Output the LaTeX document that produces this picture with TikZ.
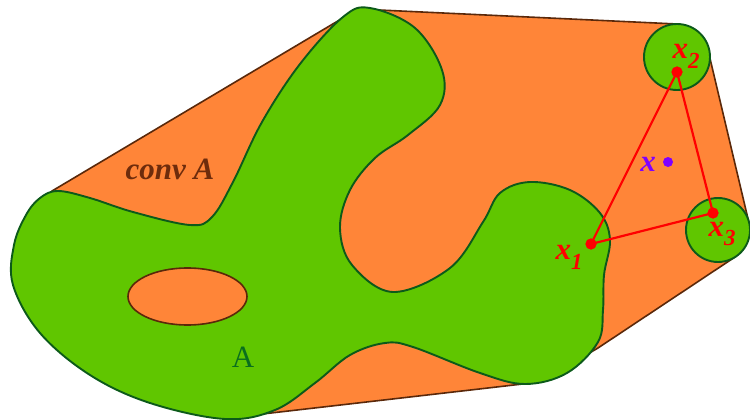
\documentclass[tikz,border=0pt]{standalone}
\usepackage{fontspec}
\setmainfont{Liberation Serif}
\definecolor{hullorange}{RGB}{255,133,56}
\definecolor{blobgreen}{RGB}{96,198,0}
\definecolor{blobline}{RGB}{12,90,26}
\definecolor{hullline}{RGB}{90,40,10}
\definecolor{convtext}{RGB}{110,44,12}
\definecolor{atext}{RGB}{10,110,30}
\definecolor{ptred}{RGB}{255,0,0}
\definecolor{ptpurple}{RGB}{128,0,255}
\tikzset{
  hull/.style={fill=hullorange, draw=hullline, line width=1.6pt, line join=round},
  blob/.style={fill=blobgreen, draw=blobline, line width=1.9pt},
  hole/.style={fill=hullorange, draw=hullline, line width=1.6pt},
  tri/.style={draw=ptred, line width=2.2pt, line join=round},
  dot/.style={circle, fill=#1, inner sep=0pt, minimum size=11pt},
  xlab/.style={text=ptred, font=\fontsize{31}{31}\selectfont\bfseries\itshape, inner sep=0pt},
}
\newcommand{\subnum}[1]{\raisebox{-0.32em}{\fontsize{23}{23}\selectfont #1}}
\begin{document}
\begin{tikzpicture}[x=1pt,y=-1pt]
\useasboundingbox (0,0) rectangle (750,420);
% convex hull
\draw[hull] (52,191) -- (358,9) -- (677,24) -- (708,50) -- (749,223) -- (735,257) -- (598,348) -- (540,382) -- (245,416) -- cycle;
% set A
\draw[blob] plot[smooth cycle, tension=0.6] coordinates {
(58,191) (90,198) (133,212) (190,225) (212,217) (233,182) (262,122) (300,64) (343,17) (370,8) (415,28) (442,70) (440,105) (408,135) (375,158) (350,190) (340,228) (352,265) (393,292) (450,268) (483,222) (500,193) (530,182) (570,190) (600,213) (610,240) (604,275) (603,310) (598,342) (567,373) (525,384) (480,373) (413,347) (385,343) (350,355) (315,383) (275,410) (225,419) (150,403) (90,375) (40,333) (13,285) (14,245) (26,215) (40,198)};
\draw[hole] (187.5,296.5) ellipse [x radius=59.5, y radius=28.5];
\draw[blob] (677,57) circle [radius=33];
\draw[blob] (718,230) circle [radius=32];
% points
\node[dot=ptred] (x1) at (591,244) {};
\node[dot=ptred] (x2) at (677,72) {};
\node[dot=ptred] (x3) at (713,213) {};
\draw[tri] (x1.center) -- (x2.center) -- (x3.center) -- cycle;
\node[dot=ptred] at (x1) {};
\node[dot=ptred] at (x2) {};
\node[dot=ptred] at (x3) {};
\node[dot=ptpurple, minimum size=10pt] (xp) at (668,162) {};
% labels
\node[xlab] (l1) at (569,257) {x\subnum{1}};
\node[xlab] (l2) at (686,56) {x\subnum{2}};
\node[xlab] (l3) at (722,234) {x\subnum{3}};
\node[xlab, text=ptpurple] (lx) at (648,164) {x};
\node[text=convtext, font=\fontsize{31}{31}\selectfont\bfseries\itshape, inner sep=0pt] (conv) at (170,169) {conv A};
\node[text=atext, font=\fontsize{31}{31}\selectfont, inner sep=0pt] (A) at (243,357) {A};
\end{tikzpicture}
\end{document}
